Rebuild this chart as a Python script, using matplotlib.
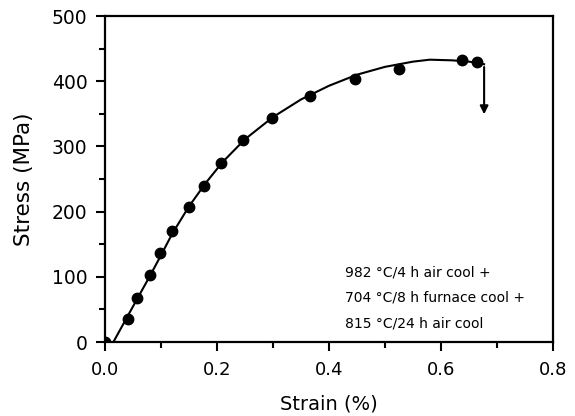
import matplotlib
matplotlib.use("Agg")
import matplotlib.pyplot as plt
from matplotlib.ticker import MultipleLocator, FuncFormatter

plt.rcParams['font.family'] = ['DejaVu Sans']

# measured points
strain_pts = [0.0, 0.041, 0.058, 0.081, 0.099, 0.120, 0.150, 0.177, 0.207, 0.246,
              0.298, 0.366, 0.446, 0.525, 0.637, 0.664]
stress_pts = [0, 35, 67, 103, 136, 171, 207, 239, 275, 310,
              343, 378, 403, 419, 433, 429]

# fitted curve
strain_fit = [0.015, 0.04, 0.06, 0.08, 0.10, 0.12, 0.15, 0.18, 0.21, 0.25, 0.30,
              0.35, 0.40, 0.45, 0.50, 0.55, 0.58, 0.62, 0.65, 0.665, 0.677]
stress_fit = [0, 39, 70, 101, 133, 166, 208, 244, 276, 311, 345,
              372, 393, 410, 422, 430, 433, 432, 430, 428, 426]

fracture_strain = 0.677
fracture_top = 426
fracture_bottom = 345

note_lines = ["982 \u00b0C/4 h air cool +",
              "704 \u00b0C/8 h furnace cool +",
              "815 \u00b0C/24 h air cool"]

fig = plt.figure(figsize=(5.75, 4.16), dpi=100)
ax = fig.add_axes([105 / 575, 1 - 342 / 416, 448 / 575, 326 / 416])

ax.plot(strain_fit, stress_fit, color='black', lw=1.5)
ax.plot(strain_pts, stress_pts, 'o', color='black', ms=7.5)
ax.annotate('', xy=(fracture_strain, fracture_bottom), xytext=(fracture_strain, fracture_top),
            arrowprops=dict(arrowstyle='-|>', color='black', lw=1.5, mutation_scale=12))

for i, line in enumerate(note_lines):
    ax.text(0.536, 0.212 - i * 0.077, line, transform=ax.transAxes,
            fontsize=10, va='center', ha='left')

ax.set_xlim(0, 0.8)
ax.set_ylim(0, 500)
ax.xaxis.set_major_locator(MultipleLocator(0.2))
ax.xaxis.set_minor_locator(MultipleLocator(0.1))
ax.yaxis.set_major_locator(MultipleLocator(100))
ax.yaxis.set_minor_locator(MultipleLocator(50))
ax.xaxis.set_major_formatter(FuncFormatter(lambda v, p: f"{v:.1f}"))
ax.tick_params(which='major', direction='out', length=6.5, width=1.5)
ax.tick_params(which='minor', direction='out', length=4, width=1.5)
ax.tick_params(axis='x', labelsize=13, pad=7)
ax.tick_params(axis='y', labelsize=13.5, pad=6)
for s in ax.spines.values():
    s.set_linewidth(1.6)

ax.set_xlabel('Strain (%)', fontsize=14)
ax.xaxis.set_label_coords(0.5, -(395 - 342) / 326)
ax.set_ylabel('Stress (MPa)', fontsize=15.5)
ax.yaxis.set_label_coords(-(105 - 34) / 448, 0.5)

fig.savefig('out.png', dpi=100)
